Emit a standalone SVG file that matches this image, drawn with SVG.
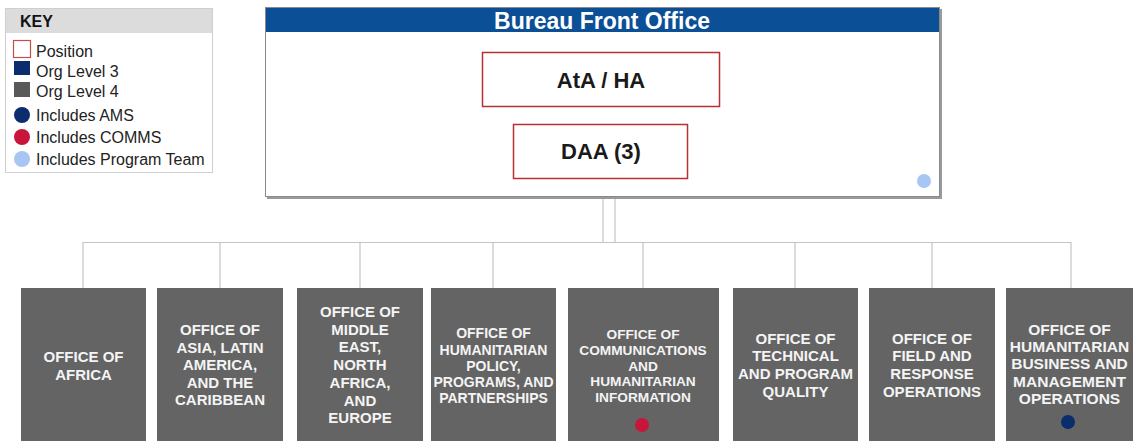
<svg xmlns="http://www.w3.org/2000/svg" width="1138" height="441" viewBox="0 0 1138 441">
<style>
.off{fill:#646464}
.ot{font-family:"Liberation Sans",Arial,sans-serif;font-weight:bold;fill:#f4f4f4;text-anchor:middle;font-size:15px}
.sm{font-size:13.7px}
.md{font-size:14px}
.pos{fill:#fff;stroke:#b8302f;stroke-width:1.5}
.pt{font-family:"Liberation Sans",Arial,sans-serif;font-weight:bold;fill:#1a1a1a;text-anchor:middle;font-size:22px}
.kt{font-family:"Liberation Sans",Arial,sans-serif;fill:#222;font-size:16px}
.ln{stroke:#c4c4c4;stroke-width:1.2;fill:none}
</style>
<rect width="1138" height="441" fill="#fff"/>

<g id="key">
<rect x="5.5" y="8.5" width="207" height="164" fill="#fff" stroke="#cfcfcf"/>
<rect x="6" y="9" width="206" height="24" fill="#dcdcdc"/>
<text x="20" y="27" font-family="'Liberation Sans',Arial,sans-serif" font-weight="bold" font-size="16" fill="#111">KEY</text>
<rect x="13.5" y="40.5" width="17" height="17" fill="#fff" stroke="#c0504d" stroke-width="1.2"/>
<text class="kt" x="36" y="57">Position</text>
<rect x="14" y="61" width="16" height="14" fill="#0b2d6e"/>
<text class="kt" x="36" y="77">Org Level 3</text>
<rect x="14" y="82" width="16" height="15" fill="#595959"/>
<text class="kt" x="36" y="97">Org Level 4</text>
<circle cx="22" cy="115" r="8" fill="#0b2d6e"/>
<text class="kt" x="36" y="121">Includes AMS</text>
<circle cx="22" cy="137" r="8" fill="#c8163a"/>
<text class="kt" x="36" y="143">Includes COMMS</text>
<circle cx="22" cy="159" r="8" fill="#a8c6f4"/>
<text class="kt" x="36" y="165">Includes Program Team</text>
</g>

<g id="connectors">
<line class="ln" x1="601" y1="107" x2="601" y2="124" style="stroke:#999"/>
<line class="ln" x1="603" y1="197" x2="603" y2="242"/>
<line class="ln" x1="615" y1="197" x2="615" y2="242"/>
<line class="ln" x1="83" y1="242.5" x2="1071" y2="242.5"/>
<line class="ln" x1="83" y1="242" x2="83" y2="288"/>
<line class="ln" x1="220" y1="242" x2="220" y2="288"/>
<line class="ln" x1="360" y1="242" x2="360" y2="288"/>
<line class="ln" x1="493" y1="242" x2="493" y2="288"/>
<line class="ln" x1="643" y1="242" x2="643" y2="288"/>
<line class="ln" x1="795" y1="242" x2="795" y2="288"/>
<line class="ln" x1="932" y1="242" x2="932" y2="288"/>
<line class="ln" x1="1071" y1="242" x2="1071" y2="288"/>
</g>

<g id="bureau">
<rect x="267" y="9" width="675" height="190" fill="#9a9a9a"/>
<rect x="265.5" y="7.5" width="674" height="189" fill="#fff" stroke="#8a8a8a"/>
<rect x="266" y="8" width="673" height="24" fill="#0b4f96"/>
<text x="602" y="28.5" font-family="'Liberation Sans',Arial,sans-serif" font-weight="bold" font-size="23" fill="#fff" text-anchor="middle">Bureau Front Office</text>
<circle cx="924" cy="181" r="7" fill="#a8c6f4"/>
</g>

<g id="ata">
<rect class="pos" x="482.5" y="52.5" width="237" height="54"/>
<text class="pt" x="601" y="87.5">AtA / HA</text>
</g>

<g id="daa">
<rect class="pos" x="513.5" y="124.5" width="174" height="54"/>
<text class="pt" x="601" y="159">DAA (3)</text>
</g>

<g id="africa">
<rect class="off" x="21" y="288" width="125" height="160"/>
<text class="ot" x="83.5"><tspan x="83.5" y="362">OFFICE OF</tspan><tspan x="83.5" y="380">AFRICA</tspan></text>
</g>

<g id="asia">
<rect class="off" x="157" y="288" width="126" height="160"/>
<text class="ot" x="220"><tspan x="220" y="335">OFFICE OF</tspan><tspan x="220" y="353">ASIA, LATIN</tspan><tspan x="220" y="370">AMERICA,</tspan><tspan x="220" y="388">AND THE</tspan><tspan x="220" y="405">CARIBBEAN</tspan></text>
</g>

<g id="middle-east">
<rect class="off" x="297" y="288" width="126" height="160"/>
<text class="ot" x="360"><tspan x="360" y="317">OFFICE OF</tspan><tspan x="360" y="335">MIDDLE</tspan><tspan x="360" y="352">EAST,</tspan><tspan x="360" y="370">NORTH</tspan><tspan x="360" y="388">AFRICA,</tspan><tspan x="360" y="406">AND</tspan><tspan x="360" y="423">EUROPE</tspan></text>
</g>

<g id="policy">
<rect class="off" x="431" y="288" width="125" height="160"/>
<text class="ot md" x="493.5"><tspan x="493.5" y="338">OFFICE OF</tspan><tspan x="493.5" y="355">HUMANITARIAN</tspan><tspan x="493.5" y="371">POLICY,</tspan><tspan x="493.5" y="387">PROGRAMS, AND</tspan><tspan x="493.5" y="403">PARTNERSHIPS</tspan></text>
</g>

<g id="communications">
<rect class="off" x="568" y="288" width="151" height="160"/>
<text class="ot sm" x="643"><tspan x="643" y="339">OFFICE OF</tspan><tspan x="643" y="355">COMMUNICATIONS</tspan><tspan x="643" y="371">AND</tspan><tspan x="643" y="386">HUMANITARIAN</tspan><tspan x="643" y="402">INFORMATION</tspan></text>
<circle cx="642" cy="425" r="7" fill="#c8163a"/>
</g>

<g id="technical">
<rect class="off" x="733" y="288" width="125" height="160"/>
<text class="ot" x="795.5"><tspan x="795.5" y="344">OFFICE OF</tspan><tspan x="795.5" y="361">TECHNICAL</tspan><tspan x="795.5" y="379">AND PROGRAM</tspan><tspan x="795.5" y="397">QUALITY</tspan></text>
</g>

<g id="field">
<rect class="off" x="869" y="288" width="126" height="160"/>
<text class="ot" x="932"><tspan x="932" y="344">OFFICE OF</tspan><tspan x="932" y="361">FIELD AND</tspan><tspan x="932" y="379">RESPONSE</tspan><tspan x="932" y="397">OPERATIONS</tspan></text>
</g>

<g id="business">
<rect class="off" x="1006" y="288" width="127" height="160"/>
<text class="ot" x="1069.5" style="font-size:15.5px"><tspan x="1069.5" y="335">OFFICE OF</tspan><tspan x="1069.5" y="352">HUMANITARIAN</tspan><tspan x="1069.5" y="369">BUSINESS AND</tspan><tspan x="1069.5" y="387">MANAGEMENT</tspan><tspan x="1069.5" y="404">OPERATIONS</tspan></text>
<circle cx="1068" cy="422" r="7" fill="#0b2d6e"/>
</g>
</svg>
